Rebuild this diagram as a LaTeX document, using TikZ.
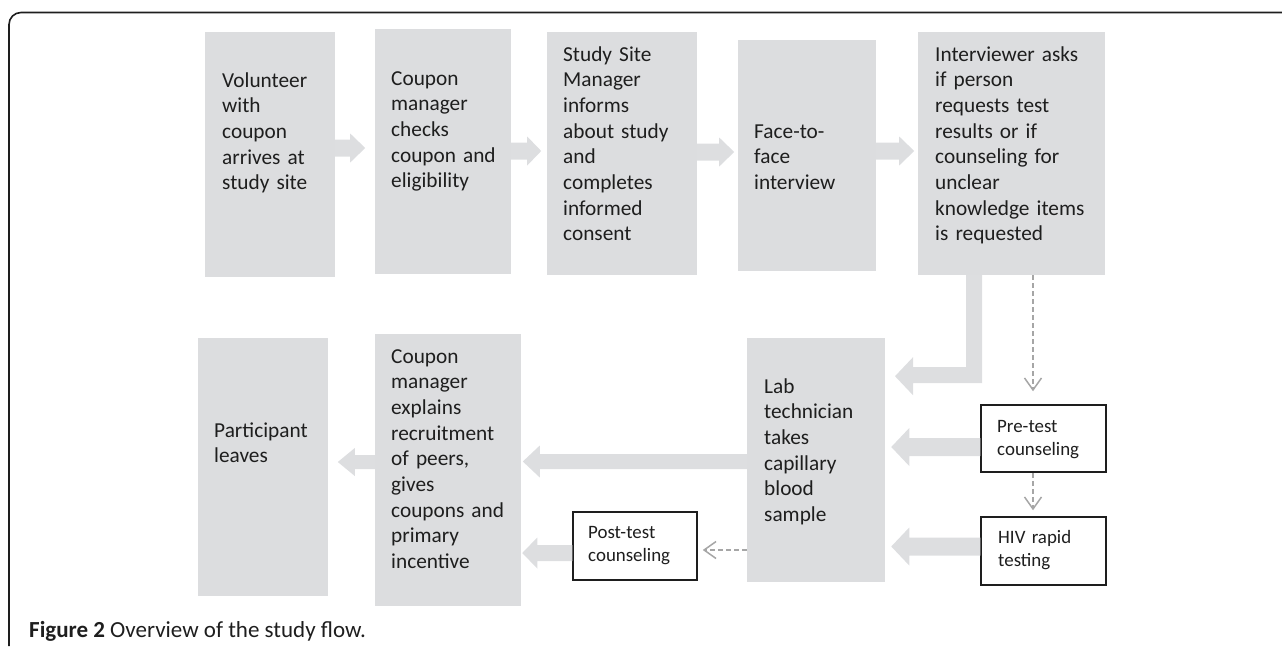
\documentclass[tikz,border=0pt]{standalone}
\usepackage{fontspec}
\setmainfont{Carlito}
\usetikzlibrary{arrows.meta}
\definecolor{gfill}{RGB}{220,221,223}
\definecolor{afill}{RGB}{221,222,224}
\definecolor{dgrey}{RGB}{166,166,166}
\definecolor{ink}{RGB}{30,30,30}
% rightward / leftward block arrows: start, shaft length, head length, shaft half, head half
\newcommand\rblk[5]{\fill[afill] (#1) ++(0,-#4) -- ++(#2,0) -- ++(0,#4-#5) -- ++(#3,#5) -- ++(-#3,#5) -- ++(0,#4-#5) -- ++(-#2,0) -- cycle;}
\newcommand\lblk[5]{\fill[afill] (#1) ++(0,-#4) -- ++(-#2,0) -- ++(0,#4-#5) -- ++(-#3,#5) -- ++(#3,#5) -- ++(0,#4-#5) -- ++(#2,0) -- cycle;}
\begin{document}
\begin{tikzpicture}[x=1pt,y=-1pt,
  gbox/.style={draw=none, fill=gfill, inner sep=0, rectangle},
  wbox/.style={draw=ink, fill=white, line width=1.5pt, inner sep=0, rectangle},
  txt/.style={anchor=base west, inner sep=0, text width=200pt, align=left, text=ink,
    font=\fontsize{21.3}{25.7}\selectfont},
  stxt/.style={txt, font=\fontsize{18.9}{23.3}\selectfont},
  dsh/.style={draw=dgrey, line width=1.5pt, dash pattern=on 5pt off 3pt,
    -{Straight Barb[length=12pt,width=17pt]}}]
\useasboundingbox (0,0) rectangle (1282,646);
% frame
\coordinate (fr1) at (1282,12.5);
\coordinate (fr2) at (9,646);
\draw[ink, line width=1.6pt, rounded corners=12pt] (fr1) -- (fr2 |- fr1) -- (fr2);
% top row boxes
\node[gbox, minimum width=130pt, minimum height=245pt] (b1) at (270,154.5) {};
\node[gbox, minimum width=136pt, minimum height=245pt] (b2) at (443,151.5) {};
\node[gbox, minimum width=150pt, minimum height=243pt] (b3) at (622,153.5) {};
\node[gbox, minimum width=138pt, minimum height=231pt] (b4) at (807,155.5) {};
\node[gbox, minimum width=187pt, minimum height=243pt] (b5) at (1011.5,153.5) {};
% bottom row boxes
\node[gbox, minimum width=138pt, minimum height=244pt] (lab) at (816,460) {};
\node[gbox, minimum width=130pt, minimum height=258pt] (part) at (263,467) {};
\node[gbox, minimum width=146pt, minimum height=272pt] (cm2) at (448,470) {};
\node[wbox, minimum width=125pt, minimum height=67pt] (pre) at (1043.5,438.5) {};
\node[wbox, minimum width=125pt, minimum height=68pt] (hiv) at (1043.5,551) {};
\node[wbox, minimum width=124pt, minimum height=68pt] (post) at (635,546) {};
% texts
\node[txt] (t1) at (222,87) {Volunteer\\with\\coupon\\arrives at\\study site};
\node[txt] (t2) at (391,85) {Coupon\\manager\\checks\\coupon and\\eligibility};
\node[txt] (t3) at (563,61) {Study Site\\Manager\\informs\\about study\\and\\completes\\informed\\consent};
\node[txt] (t4) at (754,138) {Face-to-\\face\\interview};
\node[txt] (t5) at (935,61) {Interviewer asks\\if person\\requests test\\results or if\\counseling for\\unclear\\knowledge items\\is requested};
\node[txt] (tlab) at (764,393) {Lab\\technician\\takes\\capillary\\blood\\sample};
\node[txt] (tpart) at (214,437) {Participant\\leaves};
\node[txt] (tcm2) at (391,363) {Coupon\\manager\\explains\\recruitment\\of peers,\\gives\\coupons and\\primary\\incentive};
\node[stxt] (tpre) at (997,432) {Pre-test\\counseling};
\node[stxt] (thiv) at (998,543) {HIV rapid\\testing};
\node[stxt] (tpost) at (588,538) {Post-test\\counseling};
% block arrows, top row
\rblk{b1.east |- 0,148}{15}{15}{8.5}{14.5}
\rblk{b2.east |- 0,151}{16}{14}{8.5}{14.5}
\rblk{b3.east |- 0,152}{22}{15}{8.5}{14.5}
\rblk{b4.east |- 0,151}{23}{15}{8.5}{14.5}
% L-shaped arrow from interviewer box to lab
\fill[afill] (b5.south -| 966,0) -- ++(16,0) -- ++(0,108) -- ++(-69,0) -- ++(0,12) -- ++(-18,-19) -- ++(18,-19) -- ++(0,10) -- ++(53,0) -- cycle;
% block arrows, bottom row
\lblk{pre.west |- 0,447}{71}{18}{9}{19}
\lblk{hiv.west |- 0,546.5}{71}{18}{9}{19}
\lblk{lab.west |- 0,461.5}{207}{17}{7.5}{16}
\lblk{post.west |- 0,553}{35}{15}{8}{15.5}
\lblk{cm2.west |- 0,462}{20}{17}{7}{14}
% dashed arrows
\coordinate (dx) at (1033,0);
\coordinate (dy) at (0,550);
\draw[dsh, shorten >=13pt] (b5.south -| dx) -- (pre.north -| dx);
\draw[dsh, shorten >=6pt] (pre.south -| dx) -- (hiv.north -| dx);
\draw[dsh, shorten >=5pt] (lab.west |- dy) -- (post.east |- dy);
% caption
\node[anchor=base west, inner sep=0, text=ink, font=\fontsize{23}{27}\selectfont] (cap) at (29,637) {\textbf{Figure 2} Overview of the study flow.};
\end{tikzpicture}
\end{document}
